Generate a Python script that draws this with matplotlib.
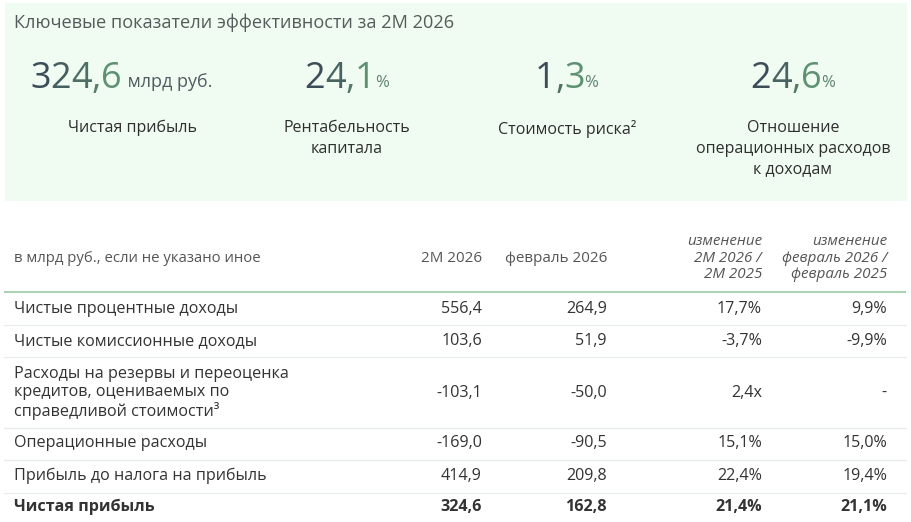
import matplotlib
matplotlib.use("Agg")
import matplotlib.pyplot as plt
from matplotlib.patches import Rectangle
from matplotlib.colors import to_rgb

plt.rcParams['font.family'] = ['Open Sans', 'DejaVu Sans']

# ---- data ----
title = "Ключевые показатели эффективности за 2М 2026"
kpi_values = ["324,6", "24,1", "1,3", "24,6"]
kpi_units = [" млрд руб.", "%", "%", "%"]
kpi_labels = ["Чистая прибыль", "Рентабельность\nкапитала", "Стоимость риска²",
              "Отношение\nоперационных расходов\nк доходам"]

unit_note = "в млрд руб., если не указано иное"
col_headers = ["2М 2026", "февраль 2026", "изменение\n2М 2026 /\n2М 2025",
               "изменение\nфевраль 2026 /\nфевраль 2025"]
row_labels = ["Чистые процентные доходы", "Чистые комиссионные доходы",
              "Расходы на резервы и переоценка\nкредитов, оцениваемых по\nсправедливой стоимости³",
              "Операционные расходы", "Прибыль до налога на прибыль", "Чистая прибыль"]
val_2m_2026 = [556.4, 103.6, -103.1, -169.0, 414.9, 324.6]
val_feb_2026 = [264.9, 51.9, -50.0, -90.5, 209.8, 162.8]
chg_2m = [17.7, -3.7, "2,4x", 15.1, 22.4, 21.4]
chg_feb = [9.9, -9.9, "-", 15.0, 19.4, 21.1]


def fnum(v):
    return f"{v:.1f}".replace(".", ",")


def fpct(v):
    if isinstance(v, str):
        return v
    return f"{v:.1f}%".replace(".", ",")


W, H = 912, 522
fig = plt.figure(figsize=(W / 100, H / 100), dpi=100)
ax = fig.add_axes([0, 0, 1, 1])
ax.set_xlim(0, W)
ax.set_ylim(H, 0)
ax.axis("off")
fig.patch.set_facecolor("white")
renderer = fig.canvas.get_renderer()

# top panel
ax.add_patch(Rectangle((5, 3), 902, 198, facecolor="#f0fbf1", edgecolor="none"))
ax.text(14, 23, title, fontsize=13.1, color="#555b5a", va="center", ha="left")

c_start = to_rgb("#3c4d5a")
c_end = to_rgb("#5e9072")


def lerp(a, b, t):
    return tuple(a[k] + (b[k] - a[k]) * t for k in range(3))


def gradient_text(x_left, y, s, fs):
    """draw string char by char with a colour gradient; returns right edge (px)."""
    n = len(s)
    x = x_left
    for k, ch in enumerate(s):
        col = lerp(c_start, c_end, k / max(n - 1, 1))
        t = ax.text(x, y, ch, fontsize=fs, color=col, ha="left", va="baseline")
        bb = t.get_window_extent(renderer)
        x = x + bb.width
    return x


def text_width(s, fs):
    t = ax.text(0, 0, s, fontsize=fs)
    w = t.get_window_extent(renderer).width
    t.remove()
    return w


kpi_centers = [133, 347, 567, 793]
num_y = 88
num_fs = 26
for i, (v, u, lab, cx) in enumerate(zip(kpi_values, kpi_units, kpi_labels, kpi_centers)):
    if i == 0:
        xr = gradient_text(30, num_y, v, num_fs)
        ax.text(xr + 1, num_y - 1, u, fontsize=13, color="#4f5d62", ha="left", va="baseline")
    else:
        w = text_width(v, num_fs)
        xr = gradient_text(cx - 7 - w / 2, num_y, v, num_fs)
        ax.text(xr - 1, num_y - 1, u, fontsize=12, color="#5f8473", ha="left", va="baseline")
    ax.text(cx, 120, lab, fontsize=11.5, color="#2e2e2e", ha="center", va="top",
            linespacing=1.38)

# table header
txt = "#333333"
hdr = "#555555"
col_right = [482, 607, 762, 887]
ax.text(14, 258, unit_note, fontsize=10.7, color=hdr, ha="left", va="center")
for j, (h, xr) in enumerate(zip(col_headers, col_right)):
    if j < 2:
        ax.text(xr, 258, h, fontsize=10.9, color=hdr, ha="right", va="center")
    else:
        ax.text(xr, 258, h, fontsize=10.9, color=hdr, ha="right", va="center",
                style="italic", linespacing=1.18, multialignment="right")

ax.plot([4, 906], [292, 292], color="#a9d2b1", lw=1.4, solid_capstyle="butt")

row_y = [309, 341, 393, 443, 476, 507]
sep_y = [325, 357, 428, 460, 493]
for y in sep_y:
    ax.plot([4, 906], [y, y], color="#e9eceb", lw=1.0)

for i, lab in enumerate(row_labels):
    bold = (i == len(row_labels) - 1)
    fw = "bold" if bold else "normal"
    y = row_y[i]
    ax.text(14, y, lab, fontsize=11.6, color=txt, ha="left", va="center",
            fontweight=fw, linespacing=1.12)
    cells = [fnum(val_2m_2026[i]), fnum(val_feb_2026[i]), fpct(chg_2m[i]), fpct(chg_feb[i])]
    for c, xr in zip(cells, col_right):
        ax.text(xr, y, c, fontsize=11.6, color=txt, ha="right", va="center", fontweight=fw)

fig.savefig("out.png", dpi=100, facecolor="white")
